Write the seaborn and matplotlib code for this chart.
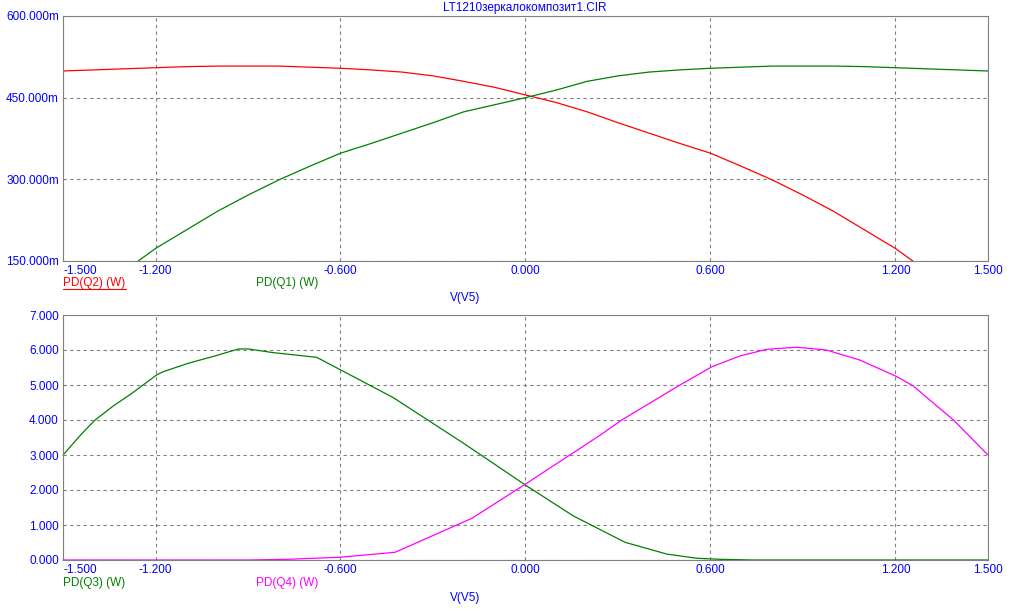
import numpy as np
import pandas as pd
import seaborn as sns
import matplotlib.pyplot as plt
from matplotlib.ticker import FuncFormatter, FixedLocator
from matplotlib.lines import Line2D

# sweep of V(V5), top panel (W)
v_top = [-1.5, -1.4, -1.3, -1.2, -1.1, -1.0, -0.9, -0.8, -0.7, -0.6, -0.5,
         -0.4, -0.3, -0.2, -0.1, 0.0, 0.1, 0.2, 0.3, 0.4, 0.5,
         0.6, 0.7, 0.8, 0.9, 1.0, 1.1, 1.2, 1.3, 1.4, 1.5]
pd_q2 = [0.499, 0.501, 0.503, 0.505, 0.507, 0.508, 0.508, 0.508, 0.506, 0.504, 0.501,
         0.497, 0.490, 0.480, 0.469, 0.455, 0.441, 0.424, 0.404, 0.385, 0.366,
         0.348, 0.324, 0.299, 0.271, 0.241, 0.207, 0.173, 0.132, 0.090, 0.045]
pd_q1 = [0.045, 0.090, 0.132, 0.173, 0.207, 0.241, 0.271, 0.299, 0.324, 0.348, 0.366,
         0.385, 0.404, 0.424, 0.437, 0.450, 0.464, 0.480, 0.490, 0.497, 0.501,
         0.504, 0.506, 0.508, 0.508, 0.508, 0.507, 0.505, 0.503, 0.501, 0.499]

# bottom panel
v_q3 = [-1.5, -1.44, -1.396, -1.337, -1.277, -1.196, -1.175, -1.094, -1.007, -0.931,
        -0.899, -0.823, -0.677, -0.429, -0.2, 0.0, 0.155, 0.323, 0.458, 0.555,
        0.63, 0.737, 1.0, 1.25, 1.5]
pd_q3 = [3.0, 3.6, 4.0, 4.4, 4.76, 5.29, 5.38, 5.62, 5.83, 6.03,
         6.03, 5.93, 5.79, 4.64, 3.33, 2.14, 1.26, 0.505, 0.17, 0.05,
         0.02, 0.0, 0.0, 0.0, 0.0]
v_q4 = [-1.5, -0.9, -0.77, -0.6, -0.423, -0.174, 0.0, 0.241, 0.312, 0.501,
        0.604, 0.696, 0.782, 0.879, 0.976, 1.085, 1.204, 1.258, 1.388, 1.5]
pd_q4 = [0.0, 0.0, 0.02, 0.08, 0.22, 1.19, 2.17, 3.56, 4.0, 5.0,
         5.52, 5.83, 6.02, 6.08, 6.0, 5.71, 5.24, 4.97, 4.0, 3.0]

x_ticks = [-1.5, -1.2, -0.6, 0.0, 0.6, 1.2, 1.5]
top_yticks = [0.15, 0.30, 0.45, 0.60]
bot_yticks = [0, 1, 2, 3, 4, 5, 6, 7]

sns.set_style('white')
plt.rcParams['font.family'] = ['Liberation Sans', 'DejaVu Sans']
plt.rcParams['font.size'] = 8.5

W, H = 1020, 611
fig = plt.figure(figsize=(W / 100, H / 100), dpi=100)


def px_box(l, t, r, b):
    return [l / W, 1 - b / H, (r - l) / W, (b - t) / H]


ax1 = fig.add_axes(px_box(63, 16, 988, 261))
ax2 = fig.add_axes(px_box(63, 315, 988, 560))

top = pd.DataFrame({'v': v_top, 'q1': pd_q1, 'q2': pd_q2})
sns.lineplot(data=top, x='v', y='q2', ax=ax1, color='#ff0000', lw=0.9, estimator=None, sort=False)
sns.lineplot(data=top, x='v', y='q1', ax=ax1, color='#008000', lw=0.9, estimator=None, sort=False)

q3 = pd.DataFrame({'v': v_q3, 'p': pd_q3})
q4 = pd.DataFrame({'v': v_q4, 'p': pd_q4})
sns.lineplot(data=q3, x='v', y='p', ax=ax2, color='#008000', lw=0.9, estimator=None, sort=False, clip_on=False)
sns.lineplot(data=q4, x='v', y='p', ax=ax2, color='#ff00ff', lw=0.9, estimator=None, sort=False, clip_on=False)

ax1.set_ylim(0.15, 0.6)
ax2.set_ylim(0, 7)
ax1.yaxis.set_major_locator(FixedLocator(top_yticks))
ax2.yaxis.set_major_locator(FixedLocator(bot_yticks))
ax1.yaxis.set_major_formatter(FuncFormatter(lambda v, p: f'{v * 1000:.3f}m'))
ax2.yaxis.set_major_formatter(FuncFormatter(lambda v, p: f'{v:.3f}'))

for ax in (ax1, ax2):
    ax.set_xlim(-1.5, 1.5)
    ax.xaxis.set_major_locator(FixedLocator(x_ticks))
    ax.xaxis.set_major_formatter(FuncFormatter(lambda v, p: f'{v:.3f}'))
    ax.set_xlabel('')
    ax.set_ylabel('')
    ax.tick_params(length=0, pad=3, labelcolor='#0000ff', labelsize=8.5)
    ax.grid(True, color='#808080', lw=0.8, ls=(0, (3, 3)))
    for s in ax.spines.values():
        s.set_color('#808080')
        s.set_linewidth(0.8)
        s.set_linestyle((0, (1, 1)))
    lbls = ax.get_xticklabels()
    lbls[0].set_ha('left')

fig.text(525 / W, 1 - 8 / H, 'LT1210зеркалокомпозит1.CIR', color='#0000ff',
         ha='center', va='center', fontsize=8.5)

for y0, names, cols in [(283, ['PD(Q2) (W)', 'PD(Q1) (W)'], ['#ff0000', '#008000']),
                        (583, ['PD(Q3) (W)', 'PD(Q4) (W)'], ['#008000', '#ff00ff'])]:
    fig.text(63 / W, 1 - y0 / H, names[0], color=cols[0], ha='left', va='center', fontsize=8.5)
    fig.text(256 / W, 1 - y0 / H, names[1], color=cols[1], ha='left', va='center', fontsize=8.5)
    fig.text(465 / W, 1 - (y0 + 15) / H, 'V(V5)', color='#0000ff', ha='center', va='center', fontsize=8.5)

# active trace underline
fig.add_artist(Line2D([63 / W, 126 / W], [1 - 289 / H] * 2, color='#ff0000', lw=0.8))

fig.savefig('out.png', dpi=100)
